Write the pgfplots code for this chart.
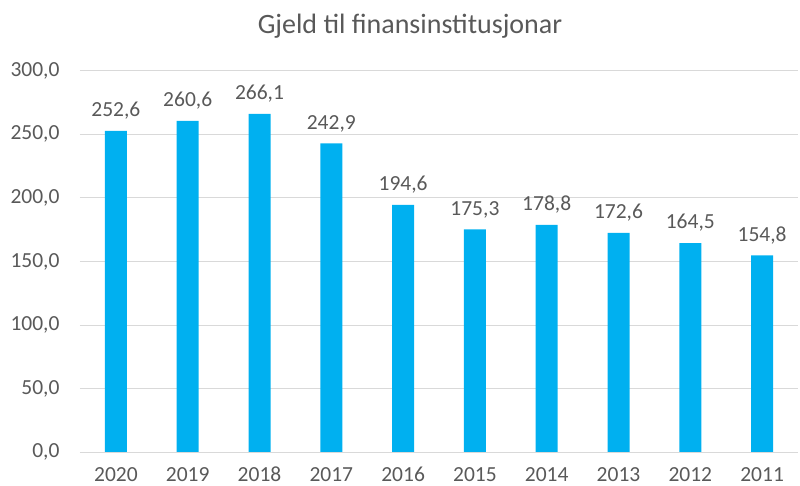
\documentclass[border=0pt]{standalone}
\usepackage{fontspec}
\setmainfont{Carlito}
\usepackage{pgfplots}
\pgfplotsset{compat=1.18}
\definecolor{barblue}{HTML}{00B0F0}
\definecolor{txtgray}{HTML}{595959}
\definecolor{gridgray}{HTML}{D9D9D9}
\begin{document}
\begin{tikzpicture}
\useasboundingbox (-80bp,-33.7bp) rectangle (720bp,452.3bp);
\begin{axis}[
  at={(0,0)}, anchor=south west,
  scale only axis,
  width=718bp, height=381.6bp,
  xmin=-0.5, xmax=9.5,
  ymin=0, ymax=300,
  ytick={0,50,...,300},
  xtick={0,...,9},
  xticklabels={2020,2019,2018,2017,2016,2015,2014,2013,2012,2011},
  axis line style={draw=none},
  axis x line*=bottom,
  ymajorgrids,
  grid style={gridgray, line width=1bp},
  major tick length=0pt,
  tick style={draw=none},
  /pgf/number format/assume math mode=true,
  yticklabel style={xshift=-17bp, /pgf/number format/fixed, /pgf/number format/fixed zerofill, /pgf/number format/precision=1, /pgf/number format/use comma},
  ticklabel style={font=\fontsize{21.5bp}{25bp}\selectfont, text=txtgray},
  xticklabel style={anchor=base, inner sep=0.5bp, yshift=-29bp},
  scaled y ticks=false,
  clip=false,
]
\addplot[ybar, bar width=22bp, fill=barblue, draw=none,
  nodes near coords,
  every node near coord/.append style={font=\fontsize{21.5bp}{25bp}\selectfont, text=txtgray, yshift=8bp,
    /pgf/number format/fixed, /pgf/number format/fixed zerofill, /pgf/number format/precision=1, /pgf/number format/use comma, /pgf/number format/assume math mode=true}]
coordinates {(0,252.6) (1,260.6) (2,266.1) (3,242.9) (4,194.6) (5,175.3) (6,178.8) (7,172.6) (8,164.5) (9,154.8)};
\draw[gridgray, line width=1bp] (rel axis cs:0,0) -- (rel axis cs:1,0);
\end{axis}
\node[text=txtgray, font=\fontsize{28bp}{32bp}\selectfont] at (330bp,426bp) {Gjeld til finansinstitusjonar};
\end{tikzpicture}
\end{document}
